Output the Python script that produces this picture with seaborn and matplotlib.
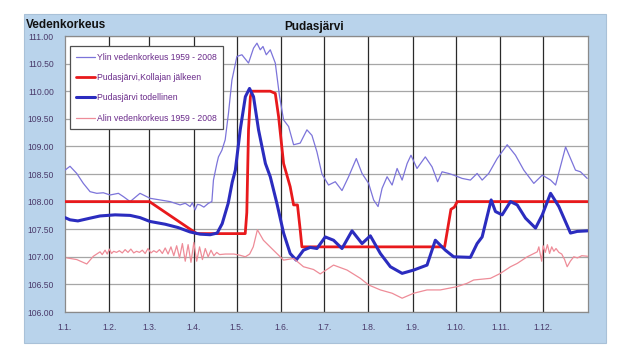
import matplotlib
matplotlib.use("Agg")
import matplotlib.pyplot as plt
import seaborn as sns
import pandas as pd
from matplotlib.patches import Rectangle

# ---------------- data (day of year, water level) ----------------
month_starts = [0, 31, 59, 90, 120, 151, 181, 212, 243, 273, 304, 334]
month_labels = ["1.1.", "1.2.", "1.3.", "1.4.", "1.5.", "1.6.", "1.7.", "1.8.",
                "1.9.", "1.10.", "1.11.", "1.12."]
y_ticks = [106.0, 106.5, 107.0, 107.5, 108.0, 108.5, 109.0, 109.5, 110.0, 110.5, 111.0]

max_days = [0, 3.5, 8.2, 12.8, 17.5, 22.2, 26.8, 31.5, 37.3, 40.8, 45.5, 52.4, 59.4,
            66.4, 73.4, 80.4, 84, 87.4, 89, 90.9, 92.5, 94.4, 97, 100.2, 102.6, 103.7,
            106.1, 107.2, 109.6, 111.9, 114.2, 116.6, 120.1, 123.6, 128.2, 131.7, 134.1,
            136.4, 138.3, 140.6, 143.4, 146.9, 149.9, 152.7, 156.2, 159.7, 164.3, 169,
            172.5, 176, 179.5, 184.1, 188.8, 193.5, 198.1, 203.5, 207.5, 212.1, 215.6,
            218.7, 221.5, 225, 228.5, 232, 235.5, 239, 241.7, 245.9, 251.7, 256.4, 260.3,
            263.4, 268, 271.5, 277.4, 283.2, 287.9, 291.4, 296, 301.9, 308.9, 314.7,
            320.5, 327.5, 333.4, 339.2, 342.7, 349.7, 356.6, 360.1, 364.8]
max_vals = [108.57, 108.64, 108.51, 108.33, 108.18, 108.15, 108.16, 108.12, 108.15,
            108.09, 108.00, 108.15, 108.06, 108.03, 108.00, 107.94, 107.97, 107.91,
            107.98, 107.85, 107.95, 107.94, 107.90, 107.97, 108.00, 108.39, 108.69,
            108.81, 108.93, 109.12, 109.60, 110.20, 110.63, 110.66, 110.51, 110.78,
            110.87, 110.75, 110.81, 110.66, 110.75, 110.51, 109.90, 109.48, 109.36,
            109.03, 109.06, 109.30, 109.20, 108.90, 108.50, 108.30, 108.36, 108.20,
            108.45, 108.78, 108.51, 108.33, 108.03, 107.91, 108.24, 108.45, 108.30,
            108.60, 108.39, 108.69, 108.84, 108.60, 108.81, 108.63, 108.36, 108.54,
            108.51, 108.48, 108.42, 108.39, 108.51, 108.39, 108.51, 108.78, 109.03,
            108.84, 108.57, 108.33, 108.48, 108.39, 108.30, 108.99, 108.57, 108.54,
            108.42]

regulated_days = [0, 59, 92, 125.9, 127, 128.2, 129.5, 130.5, 143.4, 146.9, 149.2,
                  152.7, 157.3, 159.7, 162.4, 164.3, 165.5, 265.2, 269.6, 272, 274, 365]
regulated_vals = [108.00, 108.00, 107.42, 107.42, 107.80, 109.30, 109.90, 110.00,
                  110.00, 109.96, 109.54, 108.69, 108.27, 107.94, 107.94, 107.49,
                  107.18, 107.18, 107.86, 107.90, 108.00, 108.00]

actual_days = [0, 3.5, 9, 17.5, 24.5, 35, 45.5, 52.4, 59.4, 70, 79, 87.4, 94.4, 101.4,
               106.3, 109.8, 114, 116.8, 119, 122.4, 126, 128.9, 131.7, 135.2, 140,
               143.4, 148, 152.7, 157.3, 161.5, 166.6, 171.3, 176, 181.8, 187.6, 193.5,
               200.5, 207.5, 213.3, 220.3, 227.3, 235.5, 243.6, 252.9, 258.7, 265.7,
               271.5, 283.2, 287.9, 291.4, 297.7, 300.7, 305.4, 311.2, 315.9, 321.7,
               328.7, 333.4, 339.2, 345, 353.1, 357.8, 365]
actual_vals = [107.71, 107.67, 107.65, 107.70, 107.74, 107.76, 107.75, 107.71, 107.64,
               107.59, 107.53, 107.45, 107.41, 107.40, 107.43, 107.60, 107.97, 108.35,
               108.57, 109.30, 109.90, 110.05, 109.90, 109.30, 108.69, 108.45, 107.97,
               107.43, 107.06, 106.94, 107.12, 107.17, 107.15, 107.36, 107.30, 107.15,
               107.47, 107.24, 107.38, 107.06, 106.82, 106.70, 106.76, 106.85, 107.30,
               107.12, 107.00, 106.99, 107.24, 107.36, 108.03, 107.82, 107.76, 108.00,
               107.94, 107.70, 107.52, 107.76, 108.15, 107.91, 107.43, 107.46, 107.47]

min_days = [1.2, 8.2, 15.2, 19.8, 24.5, 26, 28, 29.5, 31, 32.5, 34, 36, 38, 40, 42, 44,
            46, 48, 50, 52, 54, 56, 58, 60, 62, 64, 66, 68, 70, 72, 74, 76, 78, 80, 82,
            84, 86, 88, 90, 92, 94, 96, 98, 100, 102, 104, 106, 108, 112, 118, 122, 126,
            129, 131.5, 134.4, 138.6, 145.6, 152.7, 159.7, 166.6, 173.6, 178.3, 187.6,
            197, 206.3, 212.1, 220.3, 228.5, 235.5, 243.6, 252.9, 262.2, 274, 280.9,
            285.5, 297.2, 304.2, 311.2, 315.9, 322.9, 329.9, 331, 332, 333, 334, 335.5,
            337, 338.5, 340, 341.5, 343, 345, 347, 349, 350.8, 353, 355.4, 358, 361, 365]
min_vals = [106.98, 106.95, 106.87, 107.01, 107.09, 107.04, 107.12, 107.05, 107.14,
            107.06, 107.10, 107.08, 107.11, 107.07, 107.13, 107.08, 107.14, 107.07,
            107.10, 107.08, 107.12, 107.06, 107.15, 107.07, 107.11, 107.08, 107.13,
            107.06, 107.16, 107.05, 107.18, 107.02, 107.20, 106.98, 107.24, 106.92,
            107.22, 106.90, 107.26, 106.92, 107.18, 106.95, 107.15, 107.00, 107.12,
            107.02, 107.08, 107.04, 107.05, 107.05, 107.03, 107.00, 107.05, 107.18,
            107.49, 107.30, 107.12, 106.94, 106.97, 106.82, 106.77, 106.69, 106.85,
            106.76, 106.61, 106.49, 106.40, 106.34, 106.25, 106.34, 106.40, 106.40,
            106.46, 106.52, 106.58, 106.61, 106.70, 106.82, 106.88, 107.00, 107.09,
            107.18, 107.05, 106.92, 107.20, 107.08, 107.22, 107.06, 107.18, 107.10,
            107.15, 107.08, 107.05, 106.95, 106.82, 106.92, 107.00, 106.98, 107.02,
            107.01]

labels = ["Ylin vedenkorkeus 1959 - 2008", "Pudasjärvi,Kollajan jälkeen",
          "Pudasjärvi todellinen", "Alin vedenkorkeus 1959 - 2008"]

# ---------------- figure ----------------
sns.set_style("white")
plt.rcParams["font.family"] = ["Liberation Sans", "DejaVu Sans"]

fig = plt.figure(figsize=(6.19, 3.59), dpi=100)
fig.patch.set_facecolor("white")
panel = Rectangle((24 / 619, 1 - 343 / 359), 582 / 619, 329 / 359,
                  transform=fig.transFigure, facecolor="#b9d3eb",
                  edgecolor="#a9c1d8", linewidth=0.8, zorder=-10)
fig.patches.append(panel)

ax = fig.add_axes([65 / 619, 1 - 312 / 359, 522.5 / 619, 276 / 359])
ax.set_zorder(2)
ax.set_facecolor("white")

series = [
    (max_days, max_vals, "#7c74da", 0.9),
    (regulated_days, regulated_vals, "#e8191c", 2.0),
    (actual_days, actual_vals, "#2b2cbf", 2.2),
    (min_days, min_vals, "#ee8c98", 0.9),
]
for (d, v, c, lw), lab in zip(series, labels):
    df = pd.DataFrame({"day": d, "level": v})
    sns.lineplot(data=df, x="day", y="level", ax=ax, color=c, linewidth=lw,
                 sort=False, label=lab, zorder=3)

ax.set_xlim(0, 365)
ax.set_ylim(106, 111)
ax.set_xticks(month_starts)
ax.set_xticklabels(month_labels)
ax.set_yticks(y_ticks)
ax.set_yticklabels([f"{t:.2f}" for t in y_ticks])
ax.set_xlabel("")
ax.set_ylabel("")
ax.tick_params(axis="both", length=0, labelsize=6.2, colors="#4a3a6a")
ax.tick_params(axis="x", pad=8)
ax.tick_params(axis="y", pad=8)

for t in y_ticks:
    ax.axhline(t, color="#a6a6a6", linewidth=0.9, zorder=1)
for m in month_starts[1:]:
    ax.axvline(m, color="#2a2a2a", linewidth=0.9, zorder=1)
for s in ax.spines.values():
    s.set_color("#8a8a8a")
    s.set_linewidth(0.9)

leg = ax.legend(loc="upper left", bbox_to_anchor=(0.0096, 0.962), borderaxespad=0,
                fontsize=6.2, frameon=True, fancybox=False, edgecolor="#505050",
                framealpha=1, labelspacing=1.3, handlelength=2.1, handletextpad=0.3,
                borderpad=0.75)
leg.get_frame().set_linewidth(0.9)
for txt in leg.get_texts():
    txt.set_color("#6a2a8a")
leg.set_zorder(5)

fig.text(26 / 619, 1 - 25.5 / 359, "Vedenkorkeus", fontsize=8.5, fontweight="bold",
         color="#111111", ha="left", va="center")
fig.text(314 / 619, 1 - 27 / 359, "Pudasjärvi", fontsize=8.5, fontweight="bold",
         color="#111111", ha="center", va="center")

fig.savefig("out.png", dpi=100)
